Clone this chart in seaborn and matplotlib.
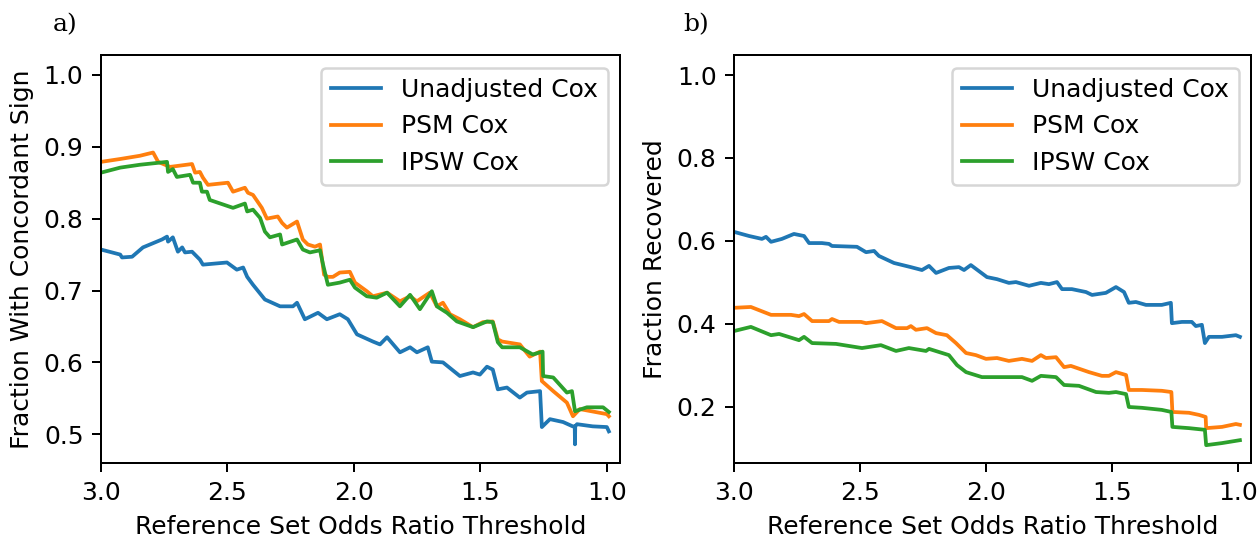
import numpy as np
import pandas as pd
import matplotlib
matplotlib.use("Agg")
import matplotlib.pyplot as plt
import seaborn as sns

# ---------------- data: panel a (Fraction With Concordant Sign) ----------------
a_unadj_x = [3.0, 2.924, 2.917, 2.877, 2.834, 2.759, 2.739, 2.735, 2.716, 2.696, 2.679, 2.668, 2.640,
             2.609, 2.597, 2.502, 2.463, 2.438, 2.422, 2.399, 2.352, 2.292, 2.241, 2.225, 2.194, 2.142,
             2.107, 2.056, 2.024, 1.988, 1.925, 1.897, 1.869, 1.818, 1.778, 1.751, 1.708, 1.692, 1.648,
             1.581, 1.529, 1.502, 1.474, 1.451, 1.431, 1.395, 1.344, 1.316, 1.264, 1.257, 1.225, 1.173,
             1.135, 1.127, 1.126, 1.125, 1.118, 1.056, 1.000, 0.992]
a_unadj_y = [0.757, 0.750, 0.746, 0.747, 0.760, 0.771, 0.775, 0.768, 0.774, 0.754, 0.760, 0.753, 0.754,
             0.743, 0.736, 0.739, 0.729, 0.732, 0.719, 0.708, 0.6875, 0.678, 0.678, 0.683, 0.660, 0.669,
             0.660, 0.667, 0.660, 0.639, 0.629, 0.625, 0.635, 0.614, 0.621, 0.614, 0.621, 0.601, 0.600,
             0.581, 0.586, 0.583, 0.594, 0.590, 0.5625, 0.565, 0.551, 0.558, 0.560, 0.510, 0.521, 0.517,
             0.511, 0.511, 0.486, 0.511, 0.514, 0.511, 0.510, 0.504]

a_psm_x = [3.0, 2.924, 2.846, 2.794, 2.774, 2.727, 2.640, 2.628, 2.609, 2.597, 2.577, 2.498, 2.478,
           2.431, 2.419, 2.399, 2.364, 2.344, 2.301, 2.284, 2.265, 2.225, 2.202, 2.182, 2.154, 2.134,
           2.118, 2.103, 2.083, 2.056, 2.016, 1.996, 1.949, 1.925, 1.869, 1.818, 1.778, 1.751, 1.700,
           1.672, 1.648, 1.620, 1.581, 1.529, 1.490, 1.451, 1.431, 1.414, 1.344, 1.305, 1.264, 1.257,
           1.212, 1.158, 1.134, 1.107, 1.000, 0.992]
a_psm_y = [0.879, 0.883, 0.8875, 0.892, 0.879, 0.872, 0.876, 0.864, 0.865, 0.857, 0.847, 0.850, 0.8375,
           0.843, 0.836, 0.833, 0.815, 0.800, 0.803, 0.794, 0.7875, 0.796, 0.771, 0.764, 0.761, 0.764,
           0.722, 0.719, 0.719, 0.725, 0.726, 0.711, 0.699, 0.692, 0.697, 0.685, 0.692, 0.685, 0.697,
           0.678, 0.683, 0.667, 0.660, 0.649, 0.656, 0.657, 0.632, 0.629, 0.625, 0.608, 0.615, 0.574,
           0.560, 0.544, 0.525, 0.535, 0.528, 0.525]

a_ipsw_x = [3.0, 2.924, 2.846, 2.739, 2.735, 2.716, 2.700, 2.648, 2.636, 2.609, 2.601, 2.581, 2.570,
            2.478, 2.431, 2.422, 2.399, 2.371, 2.352, 2.332, 2.292, 2.284, 2.225, 2.202, 2.174, 2.134,
            2.122, 2.103, 2.056, 2.016, 1.996, 1.949, 1.910, 1.869, 1.818, 1.778, 1.739, 1.692, 1.672,
            1.632, 1.593, 1.529, 1.474, 1.451, 1.431, 1.414, 1.344, 1.293, 1.254, 1.252, 1.212, 1.158,
            1.138, 1.126, 1.079, 1.015, 0.992]
a_ipsw_y = [0.864, 0.871, 0.875, 0.879, 0.865, 0.869, 0.858, 0.861, 0.850, 0.850, 0.8375, 0.8375, 0.826,
            0.815, 0.821, 0.810, 0.8125, 0.801, 0.782, 0.774, 0.778, 0.764, 0.771, 0.757, 0.753, 0.756,
            0.736, 0.708, 0.711, 0.715, 0.704, 0.692, 0.690, 0.697, 0.678, 0.694, 0.674, 0.699, 0.678,
            0.669, 0.657, 0.649, 0.657, 0.656, 0.628, 0.621, 0.621, 0.611, 0.615, 0.581, 0.579, 0.558,
            0.560, 0.532, 0.5375, 0.5375, 0.531]

# ---------------- data: panel b (Fraction Recovered) ----------------
b_unadj_x = [3.0, 2.940, 2.889, 2.873, 2.853, 2.810, 2.762, 2.722, 2.702, 2.651, 2.623, 2.611, 2.512,
             2.476, 2.444, 2.425, 2.365, 2.298, 2.254, 2.226, 2.198, 2.147, 2.107, 2.087, 2.060, 1.996,
             1.956, 1.909, 1.881, 1.829, 1.782, 1.750, 1.718, 1.698, 1.659, 1.603, 1.579, 1.524, 1.484,
             1.452, 1.433, 1.405, 1.365, 1.302, 1.266, 1.262, 1.222, 1.183, 1.167, 1.143, 1.131, 1.115,
             1.063, 1.008, 0.992]
b_unadj_y = [0.622, 0.612, 0.605, 0.610, 0.598, 0.605, 0.617, 0.612, 0.595, 0.595, 0.593, 0.588, 0.586,
             0.573, 0.576, 0.564, 0.547, 0.537, 0.530, 0.540, 0.523, 0.535, 0.537, 0.530, 0.542, 0.513,
             0.508, 0.499, 0.501, 0.492, 0.499, 0.496, 0.501, 0.484, 0.484, 0.477, 0.470, 0.475, 0.489,
             0.477, 0.451, 0.453, 0.446, 0.446, 0.451, 0.402, 0.405, 0.405, 0.395, 0.398, 0.354, 0.369,
             0.369, 0.373, 0.369]

b_psm_x = [3.0, 2.933, 2.853, 2.774, 2.742, 2.722, 2.690, 2.623, 2.611, 2.583, 2.496, 2.476, 2.413,
           2.357, 2.313, 2.298, 2.278, 2.234, 2.198, 2.155, 2.119, 2.079, 2.040, 2.000, 1.956, 1.909,
           1.857, 1.817, 1.782, 1.762, 1.722, 1.690, 1.663, 1.591, 1.540, 1.512, 1.484, 1.444, 1.433,
           1.381, 1.302, 1.264, 1.260, 1.194, 1.155, 1.128, 1.126, 1.063, 1.008, 0.992]
b_psm_y = [0.439, 0.441, 0.422, 0.422, 0.419, 0.424, 0.407, 0.407, 0.412, 0.405, 0.405, 0.402, 0.407,
           0.390, 0.390, 0.395, 0.386, 0.390, 0.378, 0.373, 0.354, 0.330, 0.325, 0.316, 0.318, 0.311,
           0.316, 0.311, 0.325, 0.318, 0.320, 0.296, 0.299, 0.284, 0.275, 0.275, 0.284, 0.277, 0.241,
           0.241, 0.239, 0.236, 0.188, 0.186, 0.181, 0.176, 0.149, 0.152, 0.159, 0.157]

b_ipsw_x = [3.0, 2.933, 2.853, 2.821, 2.742, 2.722, 2.690, 2.595, 2.492, 2.417, 2.357, 2.306, 2.238,
            2.226, 2.147, 2.115, 2.079, 2.016, 1.956, 1.909, 1.857, 1.817, 1.782, 1.722, 1.690, 1.631,
            1.563, 1.512, 1.484, 1.444, 1.433, 1.381, 1.302, 1.264, 1.260, 1.194, 1.131, 1.126, 1.063,
            0.992]
b_ipsw_y = [0.383, 0.393, 0.373, 0.376, 0.361, 0.369, 0.354, 0.352, 0.342, 0.349, 0.335, 0.342, 0.335,
            0.340, 0.325, 0.301, 0.284, 0.272, 0.272, 0.272, 0.272, 0.263, 0.275, 0.272, 0.253, 0.251,
            0.236, 0.234, 0.236, 0.231, 0.200, 0.198, 0.193, 0.188, 0.152, 0.149, 0.145, 0.108, 0.113,
            0.120]

methods = ["Unadjusted Cox", "PSM Cox", "IPSW Cox"]
colors = ["#1f77b4", "#ff7f0e", "#2ca02c"]
xlabel = "Reference Set Odds Ratio Threshold"
ylabel_a = "Fraction With Concordant Sign"
ylabel_b = "Fraction Recovered"
xticks = [3.0, 2.5, 2.0, 1.5, 1.0]
yticks_a = [0.5, 0.6, 0.7, 0.8, 0.9, 1.0]
yticks_b = [0.2, 0.4, 0.6, 0.8, 1.0]


def frame(series):
    parts = []
    for name, (xs, ys) in zip(methods, series):
        parts.append(pd.DataFrame({"x": xs, "y": ys, "method": name}))
    return pd.concat(parts, ignore_index=True)


df_a = frame([(a_unadj_x, a_unadj_y), (a_psm_x, a_psm_y), (a_ipsw_x, a_ipsw_y)])
df_b = frame([(b_unadj_x, b_unadj_y), (b_psm_x, b_psm_y), (b_ipsw_x, b_ipsw_y)])

W, H, DPI = 1258, 538, 180
fig = plt.figure(figsize=(W / DPI, H / DPI), dpi=DPI)
ax_a = fig.add_axes([101 / W, 75 / H, 519 / W, 407.5 / H])
ax_b = fig.add_axes([734 / W, 75 / H, 517 / W, 407.5 / H])

for ax, df, ylab, yt, ylim in [
    (ax_a, df_a, ylabel_a, yticks_a, (0.46, 1.027)),
    (ax_b, df_b, ylabel_b, yticks_b, (0.065, 1.047)),
]:
    sns.lineplot(data=df, x="x", y="y", hue="method", hue_order=methods,
                 palette=colors, estimator=None, sort=False, linewidth=1.5, ax=ax)
    ax.set_xlim(3.0, 0.948)
    ax.set_ylim(*ylim)
    ax.set_xticks(xticks)
    ax.set_xticklabels([f"{v:.1f}" for v in xticks])
    ax.set_yticks(yt)
    ax.set_yticklabels([f"{v:.1f}" for v in yt])
    ax.set_xlabel(xlabel, fontsize=10)
    ax.set_ylabel(ylab, fontsize=10)
    sns.move_legend(ax, "upper right", title=None, fontsize=10)

fig.text(53 / W, 1 - 31 / H, "a)", fontfamily="DejaVu Serif", fontsize=10, va="baseline")
fig.text(683 / W, 1 - 31 / H, "b)", fontfamily="DejaVu Serif", fontsize=10, va="baseline")

fig.savefig("out.png", dpi=DPI)
